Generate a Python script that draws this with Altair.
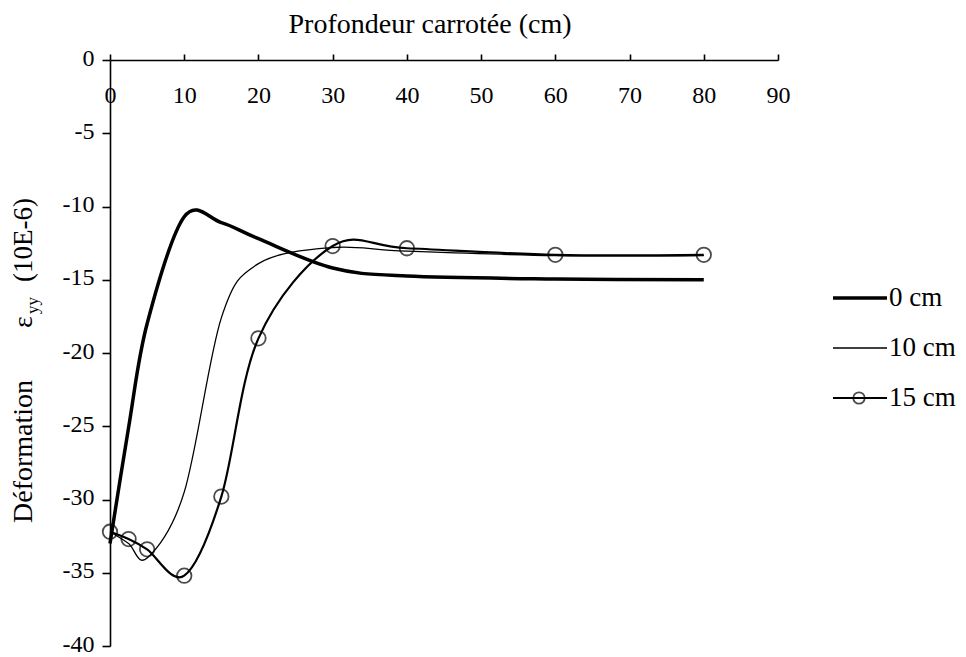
import altair as alt
import pandas as pd

# ---- data ----
depth_cm = [0, 2.5, 5, 10, 15, 20, 30, 40, 60, 80]
strain_0cm = [-33.0, -25.1, -18.0, -10.7, -11.1, -12.2, -14.2, -14.75, -14.95, -15.0]
strain_10cm = [-32.2, -33.0, -34.0, -29.5, -17.6, -13.9, -12.8, -13.05, -13.35, -13.35]
strain_15cm = [-32.2, -32.7, -33.4, -35.2, -29.8, -19.0, -12.7, -12.85, -13.3, -13.3]
series_names = ["0 cm", "10 cm", "15 cm"]
x_ticks = list(range(0, 91, 10))
y_ticks = list(range(-40, 1, 5))

FONT = "Liberation Serif"
W, H = 668, 586

rows = []
for name, vals in zip(series_names, [strain_0cm, strain_10cm, strain_15cm]):
    for x, y in zip(depth_cm, vals):
        rows.append({"serie": name, "depth": x, "strain": y})
df = pd.DataFrame(rows)

xs = alt.Scale(domain=[0, 90], nice=False)
ys = alt.Scale(domain=[-40, 0], nice=False)

axis_style = dict(labelFont=FONT, labelFontSize=24, labelColor="black",
                  domainColor="black", domainWidth=1.6, tickColor="black",
                  tickWidth=1.6, grid=False, title=None, labelFlush=False,
                  labelExpr="'' + datum.value")

x_enc = alt.X("depth:Q", scale=xs, axis=alt.Axis(
    orient="top", values=x_ticks, tickSize=6, labelBaseline="top",
    labelPadding=-29, **axis_style))
y_enc = alt.Y("strain:Q", scale=ys, axis=alt.Axis(
    orient="left", values=y_ticks, tickSize=8, labelPadding=8,
    labelAlign="right", labelOffset=-2, **axis_style))

base = alt.Chart(df)

def line_layer(name, width):
    return base.transform_filter(alt.datum.serie == name).mark_line(
        interpolate="cardinal", tension=0, color="black", strokeWidth=width
    ).encode(x=x_enc, y=y_enc)

l0 = line_layer("0 cm", 3.5)
l10 = line_layer("10 cm", 1.3)
l15 = line_layer("15 cm", 2.2)
p15 = base.transform_filter(alt.datum.serie == "15 cm").mark_point(
    shape="circle", filled=False, color="black", size=210, strokeWidth=1.8
).encode(x=x_enc, y=y_enc)

one = alt.Data(values=[{"k": 0}])

def txt(text, x, y, size, angle=0, align="left", baseline="middle"):
    kw = dict(text=text, font=FONT, fontSize=size, color="black",
              align=align, baseline=baseline)
    if angle:
        kw["angle"] = angle
    return alt.Chart(one).mark_text(**kw).encode(x=alt.value(x), y=alt.value(y))

# x title
xt = txt("Profondeur carrotée (cm)", 320, -35, 28, align="center")
# y title pieces (rotated)
yt1 = txt("Déformation", -78, 463, 28, angle=270, baseline="alphabetic")
yt2 = txt("ε", -78, 268, 28, angle=270, baseline="alphabetic")
yt3 = txt("yy", -72, 254, 17, angle=270, baseline="alphabetic")
yt4 = txt("(10E-6)", -78, 222, 27, angle=270, baseline="alphabetic")

# legend
leg = []
leg_y = [238, 288, 338]
leg_w = [3.5, 1.3, 2.2]
for name, yy, w in zip(series_names, leg_y, leg_w):
    leg.append(alt.Chart(one).mark_rule(color="black", strokeWidth=w).encode(
        x=alt.value(723), x2=alt.value(777), y=alt.value(yy)))
    leg.append(txt(name, 779, yy, 27))
leg.append(alt.Chart(one).mark_point(shape="circle", filled=False, color="black",
                                     size=130, strokeWidth=1.8).encode(
    x=alt.value(749), y=alt.value(338)))

chart = alt.layer(l0, l10, l15, p15, xt, yt1, yt2, yt3, yt4, *leg).properties(
    width=W, height=H,
    background="white",
    autosize=alt.AutoSizeParams(type="none"),
    padding={"left": 102, "top": 52, "right": 180, "bottom": 10},
).configure_view(stroke=None)

chart.save("out.html", embed_options={"renderer": "svg", "actions": False})
